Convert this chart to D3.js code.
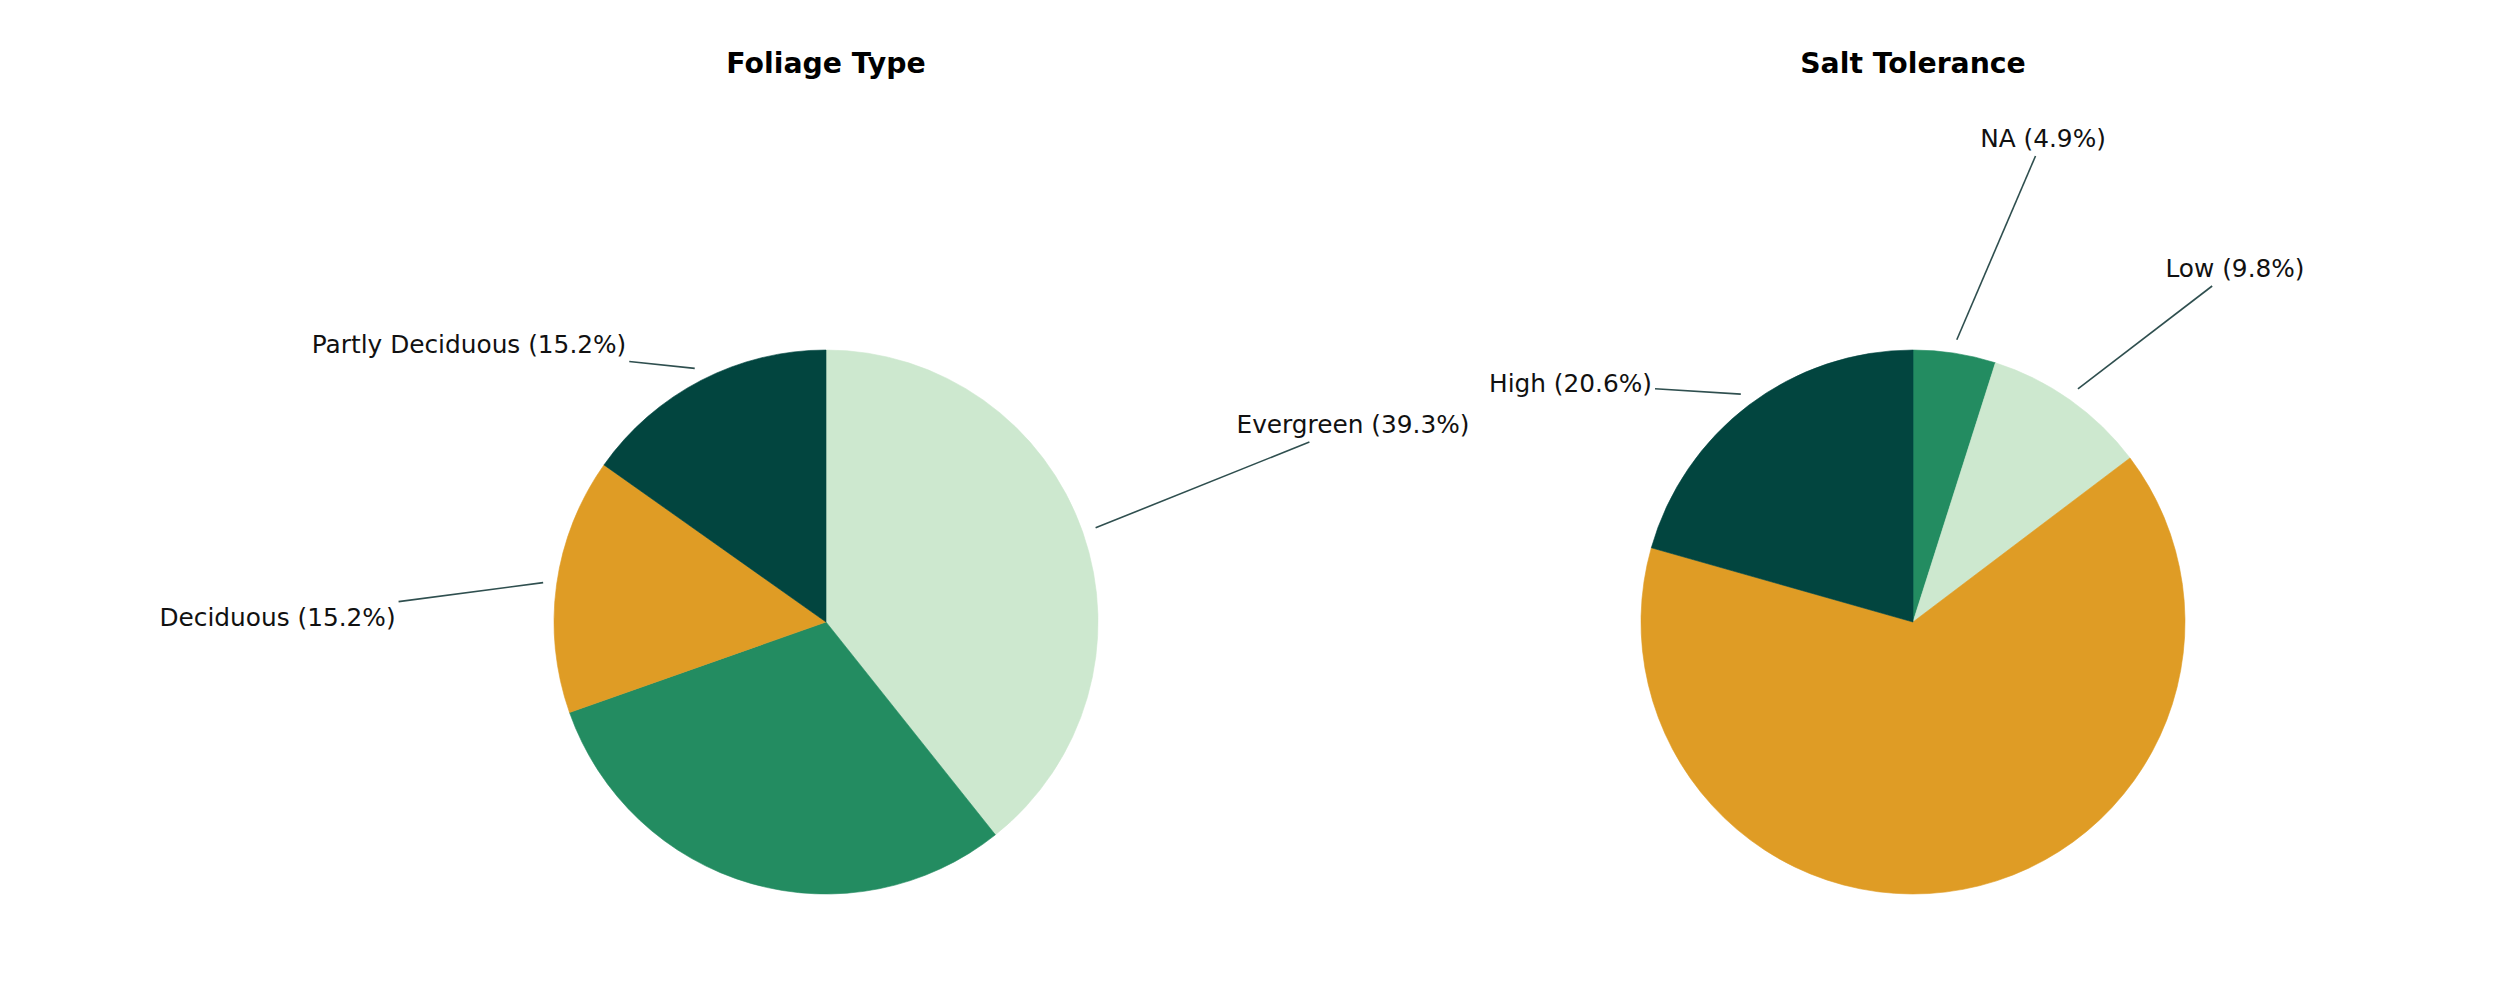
<!DOCTYPE html>
<html>
<head>
<meta charset="utf-8">
<script src="https://cdn.jsdelivr.net/npm/d3@7/dist/d3.min.js"></script>
<style>
  html, body { margin: 0; padding: 0; background: #ffffff; }
  svg { display: block; }
</style>
</head>
<body>
<svg id="chart" width="2500" height="984"></svg>
<script>
// ---------------- DATA ----------------
const foliageTitle = "Foliage Type";
const foliageCategories = ["Evergreen", "Semi-Evergreen", "Deciduous", "Partly Deciduous"];
const foliageValues = [39.3, 30.3, 15.2, 15.2];

const saltTitle = "Salt Tolerance";
const saltCategories = ["NA", "Low", "Moderate", "High"];
const saltValues = [4.9, 9.8, 64.7, 20.6];

// ---------------- STYLE / LAYOUT ----------------
const foliageColors = ["#cde8cf", "#238c61", "#df9c25", "#02453f"];
const saltColors = ["#238c61", "#cde8cf", "#df9c25", "#02453f"];

// label text placement (centre x, baseline y relative to pie centre);
// null = label falls outside the figure and is not visible
const foliageLabelPos = [[527, -189], null, [-548.5, 4], [-357, -269]];
const saltLabelPos = [[130, -475], [322, -345], null, [-342.5, -230]];

const W = 2500, H = 984;
const radius = 272;
const centers = [[826, 622], [1913, 622]];
const titleY = 73;
const labelFont = "24.8px 'DejaVu Sans', sans-serif";
const lineColor = "#2f4f4f";

const svg = d3.select("#chart");

function drawPie(cx, cy, title, cats, vals, colors, labelPos) {
  const g = svg.append("g").attr("transform", `translate(${cx},${cy})`);
  const pie = d3.pie().sort(null).value(d => d.v).startAngle(0).endAngle(2 * Math.PI);
  const data = cats.map((c, i) => ({ c, v: vals[i], i }));
  const arcs = pie(data);
  const arc = d3.arc().innerRadius(0).outerRadius(radius);

  g.selectAll("path.slice").data(arcs).enter().append("path")
    .attr("class", "slice")
    .attr("d", arc)
    .attr("fill", d => colors[d.data.i])
    .attr("stroke", d => colors[d.data.i])
    .attr("stroke-width", 0.6);

  svg.append("text")
    .attr("x", cx).attr("y", titleY)
    .attr("text-anchor", "middle")
    .style("font-family", "'DejaVu Sans', sans-serif")
    .style("font-weight", "bold")
    .style("font-size", "28.3px")
    .attr("fill", "#000")
    .text(title);

  arcs.forEach(a => {
    const pos = labelPos[a.data.i];
    if (!pos) return;
    const mid = (a.startAngle + a.endAngle) / 2;
    const tx = Math.sin(mid) * radius * 1.05;
    const ty = -Math.cos(mid) * radius * 1.05;

    const t = g.append("text")
      .attr("x", pos[0]).attr("y", pos[1])
      .attr("text-anchor", "middle")
      .style("font", labelFont)
      .attr("fill", "#111")
      .text(`${a.data.c} (${a.data.v.toFixed(1)}%)`);

    const bb = t.node().getBBox();
    const pad = 3;
    const bx0 = bb.x - pad, bx1 = bb.x + bb.width + pad;
    const by0 = bb.y - pad, by1 = bb.y + bb.height + pad;
    const ccx = bb.x + bb.width / 2, ccy = bb.y + bb.height / 2;
    const dx = tx - ccx, dy = ty - ccy;
    let tt = Infinity;
    if (dx > 0) tt = Math.min(tt, (bx1 - ccx) / dx);
    if (dx < 0) tt = Math.min(tt, (bx0 - ccx) / dx);
    if (dy > 0) tt = Math.min(tt, (by1 - ccy) / dy);
    if (dy < 0) tt = Math.min(tt, (by0 - ccy) / dy);
    const sx = ccx + dx * tt, sy = ccy + dy * tt;

    g.insert("line", "text")
      .attr("x1", sx).attr("y1", sy)
      .attr("x2", tx).attr("y2", ty)
      .attr("stroke", lineColor)
      .attr("stroke-width", 1.6);
  });
}

drawPie(centers[0][0], centers[0][1], foliageTitle, foliageCategories, foliageValues, foliageColors, foliageLabelPos);
drawPie(centers[1][0], centers[1][1], saltTitle, saltCategories, saltValues, saltColors, saltLabelPos);
</script>
</body>
</html>
